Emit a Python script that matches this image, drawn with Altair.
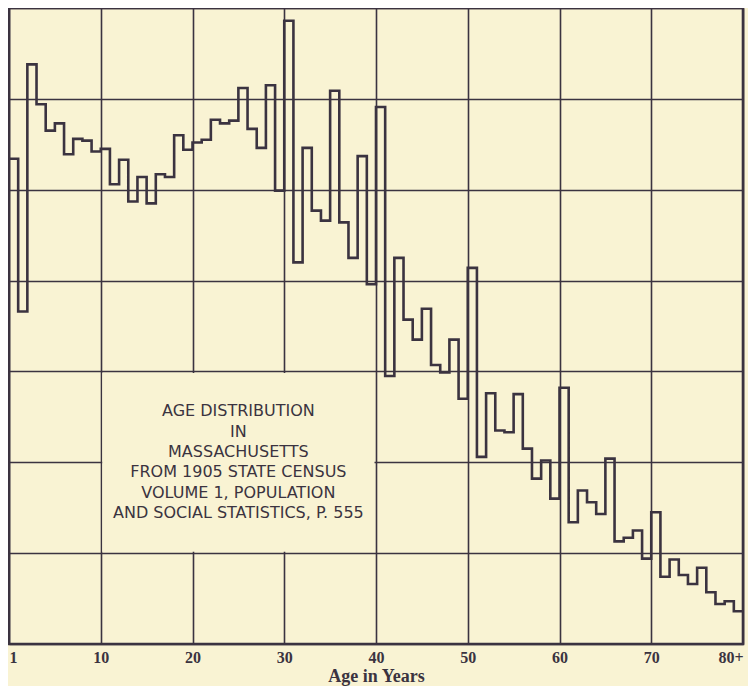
import altair as alt
import pandas as pd

# Population by single year of age (thousands), Massachusetts 1905 state census
ages = list(range(0, 80))
population = [
    53.4, 36.6, 63.8, 59.4, 56.5, 57.3, 53.9, 55.6, 55.4, 54.2,
    54.5, 50.6, 53.3, 48.7, 51.4, 48.5, 51.7, 51.4, 56.0, 54.4,
    55.2, 55.5, 57.7, 57.3, 57.6, 61.2, 56.7, 54.6, 61.5, 49.9,
    68.6, 42.0, 54.6, 47.7, 46.6, 60.9, 46.4, 42.5, 53.7, 39.6,
    59.1, 29.5, 42.5, 35.7, 33.5, 36.9, 30.7, 29.9, 33.5, 27.0,
    41.4, 20.6, 27.6, 23.5, 23.3, 27.5, 21.5, 18.2, 20.2, 16.0,
    28.2, 13.4, 16.9, 15.6, 14.3, 20.4, 11.3, 11.7, 12.5, 9.4,
    14.5, 7.4, 9.3, 7.6, 6.6, 8.4, 5.7, 4.4, 4.7, 3.6,
]
x_ticks = [0, 10, 20, 30, 40, 50, 60, 70, 80]
y_grid = [0, 10, 20, 30, 40, 50, 60, 70]
note_lines = [
    "AGE DISTRIBUTION",
    "IN",
    "MASSACHUSETTS",
    "FROM 1905 STATE CENSUS",
    "VOLUME 1, POPULATION",
    "AND SOCIAL STATISTICS, P. 555",
]
note_box_ages = [10, 40]
note_box_levels = [10, 30]

PAPER = "#f9f3d3"
INK = "#3b3340"
LINE_H = 20.4

# step line: close the last year at age 80
step_df = pd.DataFrame({"age": ages + [80], "pop": population + [population[-1]]})
box_df = pd.DataFrame({
    "x": [note_box_ages[0]], "x2": [note_box_ages[1]],
    "y": [note_box_levels[0]], "y2": [note_box_levels[1]],
})
note_df = pd.DataFrame({
    "x": [sum(note_box_ages) / 2],
    "y": [sum(note_box_levels) / 2],
    "text": ["\n".join(note_lines)],
})

x_scale = alt.Scale(domain=[0, 80], nice=False, zero=False)
y_scale = alt.Scale(domain=[0, 70], nice=False)

x_axis = alt.Axis(
    values=x_ticks,
    labelExpr="datum.value == 0 ? '1' : datum.value == 80 ? '80+' : datum.label",
    labelAlign={
        "condition": [
            {"test": "datum.value == 0", "value": "left"},
            {"test": "datum.value == 80", "value": "right"},
        ],
        "value": "center",
    },
    grid=True, gridColor=INK, gridWidth=1.6, gridOpacity=1,
    ticks=False, domain=False,
    labelFont="Liberation Serif", labelFontSize=16, labelFontWeight="bold",
    labelColor=INK, labelPadding=5, labelFlush=False, labelOverlap=False,
    title="Age in Years", titleFont="Liberation Serif", titleFontSize=18,
    titleFontWeight="bold", titleColor=INK, titlePadding=2,
)
y_axis = alt.Axis(
    values=y_grid, grid=True, gridColor=INK, gridWidth=1.6, gridOpacity=1,
    labels=False, ticks=False, domain=False, title=None, minExtent=0, maxExtent=0,
)

steps = alt.Chart(step_df).mark_line(
    interpolate="step-after", color=INK, strokeWidth=2.6, strokeJoin="miter"
).encode(
    x=alt.X("age:Q", scale=x_scale, axis=x_axis),
    y=alt.Y("pop:Q", scale=y_scale, axis=y_axis),
)

box = alt.Chart(box_df).mark_rect(
    color=PAPER, xOffset=1.5, x2Offset=-1.5, yOffset=-1.5, y2Offset=1.5
).encode(
    x=alt.X("x:Q", scale=x_scale),
    x2="x2:Q",
    y=alt.Y("y:Q", scale=y_scale),
    y2="y2:Q",
)

note = alt.Chart(note_df).mark_text(
    font="DejaVu Sans", fontSize=16, color=INK, lineBreak="\n", lineHeight=LINE_H,
    align="center", baseline="middle", dy=-(len(note_lines) - 1) * LINE_H / 2,
).encode(
    x=alt.X("x:Q", scale=x_scale),
    y=alt.Y("y:Q", scale=y_scale),
    text="text:N",
)

chart = alt.layer(box, steps, note).properties(
    width=734, height=636, background=PAPER,
    padding={"left": 1, "top": 0, "right": 5, "bottom": 42},
    autosize=alt.AutoSizeParams(type="none"),
).configure_view(
    fill=PAPER, stroke=INK, strokeWidth=2.6,
)

chart.save("out.html", embed_options={"renderer": "svg", "actions": False})
